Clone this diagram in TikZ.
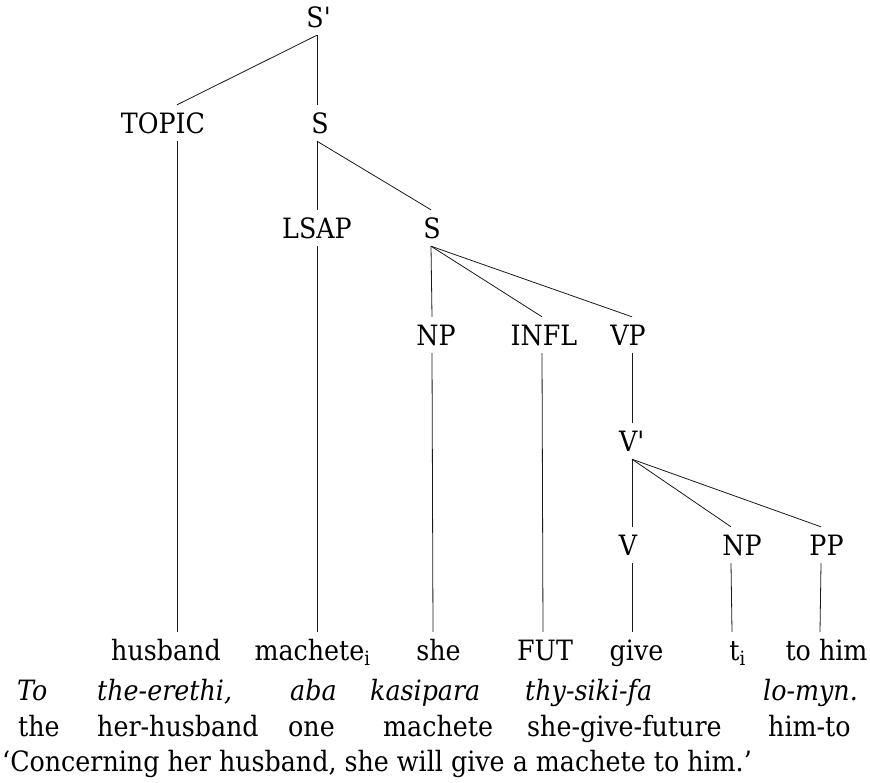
\documentclass[tikz,border=0pt]{standalone}
\usepackage{fontspec}
\setmainfont{DejaVu Serif}[FakeStretch=0.905]
\begin{document}
\begin{tikzpicture}[x=1pt,y=-1pt,
  every node/.style={font=\fontsize{28}{33}\selectfont, text=black},
  lab/.style={anchor=base, inner xsep=0pt, inner ysep=8pt, text height=20pt, text depth=0pt},
  tx/.style={execute at begin node={\hspace*{#1}}},
  gl/.style={anchor=base west, inner sep=0pt},
  branch/.style={line width=0.8pt, draw=black!90}]
\useasboundingbox (0,0) rectangle (870,782);

% tree labels (anchor at the branch x, text nudged by tx)
\node[lab, tx=4pt]   (sp)    at (317,27)  {S\textquotesingle};
\node[lab, tx=-28pt] (topic) at (177,133) {TOPIC};
\node[lab, tx=6pt]   (s1)    at (317,133) {S};
\node[lab]           (lsap)  at (317,238) {LSAP};
\node[lab, tx=2pt]   (s2)    at (431,238) {S};
\node[lab, tx=8pt]   (np1)   at (432,345) {NP};
\node[lab, tx=4pt]   (infl)  at (542,345) {INFL};
\node[lab, tx=-8pt]  (vp)    at (632,345) {VP};
\node[lab]           (vbar)  at (632,451) {V\textquotesingle};
\node[lab, tx=-8pt]  (v)     at (632,555) {V};
\node[lab, tx=22pt]  (np2)   at (731,555) {NP};
\node[lab, tx=11pt]  (pp)    at (821,555) {PP};

% leaves
\node[lab, tx=-22pt] (husband) at (177,660) {husband};
\node[lab, tx=-9pt]  (machete) at (317,660) {machete\textsubscript{i}};
\node[lab, tx=11pt]  (she)     at (433,660) {she};
\node[lab, tx=4pt]   (fut)     at (543,660) {FUT};
\node[lab, tx=9pt]   (give)    at (632,660) {give};
\node[lab, tx=11pt]  (ti)      at (732,660) {t\textsubscript{i}};
\node[lab, tx=13pt]  (tohim)   at (820,660) {to him};

% branches
\draw[branch] (sp.south) -- (topic.north);
\draw[branch] (sp.south) -- (s1.north);
\draw[branch] (topic.south) -- (husband.north);
\draw[branch] (s1.south) -- (lsap.north);
\draw[branch] (s1.south) -- (s2.north);
\draw[branch] (lsap.south) -- (machete.north);
\draw[branch] (s2.south) -- (np1.north);
\draw[branch] (s2.south) -- (infl.north);
\draw[branch] (s2.south) -- (vp.north);
\draw[branch] (np1.south) -- (she.north);
\draw[branch] (infl.south) -- (fut.north);
\draw[branch] (vp.south) -- (vbar.north);
\draw[branch] (vbar.south) -- (v.north);
\draw[branch] (vbar.south) -- (np2.north);
\draw[branch] (vbar.south) -- (pp.north);
\draw[branch] (v.south) -- (give.north);
\draw[branch] (np2.south) -- (ti.north);
\draw[branch] (pp.south) -- (tohim.north);

% interlinear gloss
\node[gl] (w1) at (17,700)  {\itshape To};
\node[gl] (w2) at (97,700)  {\itshape the-erethi,};
\node[gl] (w3) at (290,700) {\itshape aba};
\node[gl] (w4) at (370,700) {\itshape kasipara};
\node[gl] (w5) at (525,700) {\itshape thy-siki-fa};
\node[gl] (w6) at (763,700) {\itshape lo-myn.};

\node[gl] (g1) at (18,736)  {the};
\node[gl] (g2) at (97,736)  {her-husband};
\node[gl] (g3) at (288,736) {one};
\node[gl] (g4) at (383,736) {machete};
\node[gl] (g5) at (527,736) {she-give-future};
\node[gl] (g6) at (768,736) {him-to};

\node[gl] (tr) at (2,771) {`Concerning her husband, she will give a machete to him.'};
\end{tikzpicture}
\end{document}
